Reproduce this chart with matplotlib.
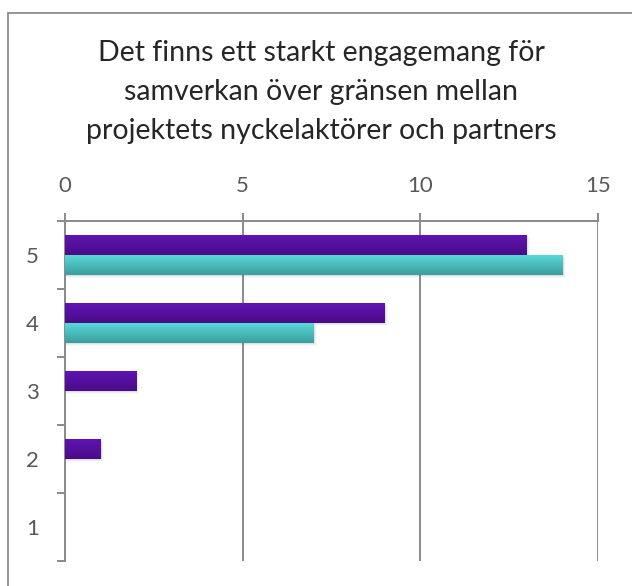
import numpy as np
import matplotlib.pyplot as plt
from matplotlib.patches import Rectangle
from matplotlib.colors import LinearSegmentedColormap

categories = [1, 2, 3, 4, 5]
series_a = [0, 1, 2, 9, 13]   # purple
series_b = [0, 0, 0, 7, 14]   # teal
xticks = [0, 5, 10, 15]
title = "Det finns ett starkt engagemang för\nsamverkan över gränsen mellan\nprojektets nyckelaktörer och partners"

plt.rcParams['font.family'] = ['Lato', 'DejaVu Sans']

fig = plt.figure(figsize=(6.32, 5.86), dpi=100)
fig.patch.set_facecolor('white')

# outer chart frame (only left/top visible in the crop)
fig.patches.append(Rectangle((8 / 632, -0.1), 1.2, 1 - 13 / 586 + 0.1,
                             transform=fig.transFigure, fill=False,
                             edgecolor='#8c8c8c', linewidth=1.3))

ax = fig.add_axes([65 / 632, 1 - 561 / 586, (598 - 65) / 632, (561 - 221) / 586])

h = 0.29
ya = np.array(categories) + h / 2
yb = np.array(categories) - h / 2

cmap_a = LinearSegmentedColormap.from_list('a', ['#4a0c86', '#5f14b4'])
cmap_b = LinearSegmentedColormap.from_list('b', ['#3a9e9e', '#58d8d8'])
grad = np.linspace(0, 1, 64).reshape(-1, 1)


def draw_bars(ys, vals, cmap):
    for y, v in zip(ys, vals):
        if v <= 0:
            continue
        # soft shadow under the bar
        for k, a in enumerate([0.08, 0.05, 0.03]):
            ax.add_patch(Rectangle((0.02, y - h / 2 - 0.015 - 0.015 * k), v + 0.02 + 0.02 * k, h,
                                   facecolor='#333333', alpha=a, edgecolor='none', zorder=2))
        bar = ax.barh(y, v, height=h, color=cmap(0.5), edgecolor='none', zorder=3)[0]
        im = ax.imshow(grad, cmap=cmap, aspect='auto', origin='lower',
                       extent=[0, v, y - h / 2, y + h / 2], zorder=4)
        im.set_clip_path(bar)


draw_bars(ya, series_a, cmap_a)
draw_bars(yb, series_b, cmap_b)

ax.set_xlim(0, 15)
ax.set_ylim(0.5, 5.5)
ax.set_xticks(xticks)
ax.xaxis.tick_top()
ax.grid(axis='x', color='#8a8a8a', linewidth=1.4, zorder=1)
ax.set_axisbelow(True)

ax.set_yticks(categories)
ax.set_yticks(np.arange(0.5, 5.6, 1), minor=True)
ax.tick_params(axis='y', which='major', length=0, pad=19, labelsize=16, labelcolor='#595959')
ax.tick_params(axis='y', which='minor', length=6, width=1.4, color='#8a8a8a')
ax.tick_params(axis='x', length=6, width=1.4, color='#8a8a8a', pad=12,
               labelsize=16, labelcolor='#595959')

for s in ['right', 'bottom']:
    ax.spines[s].set_visible(False)
for s in ['left', 'top']:
    ax.spines[s].set_color('#8a8a8a')
    ax.spines[s].set_linewidth(1.4)

fig.text(321 / 632, 1 - 92 / 586, title, ha='center', va='center', fontsize=20.5,
         color='#262626', linespacing=1.6)

fig.savefig('out.png', dpi=100, facecolor='white')
